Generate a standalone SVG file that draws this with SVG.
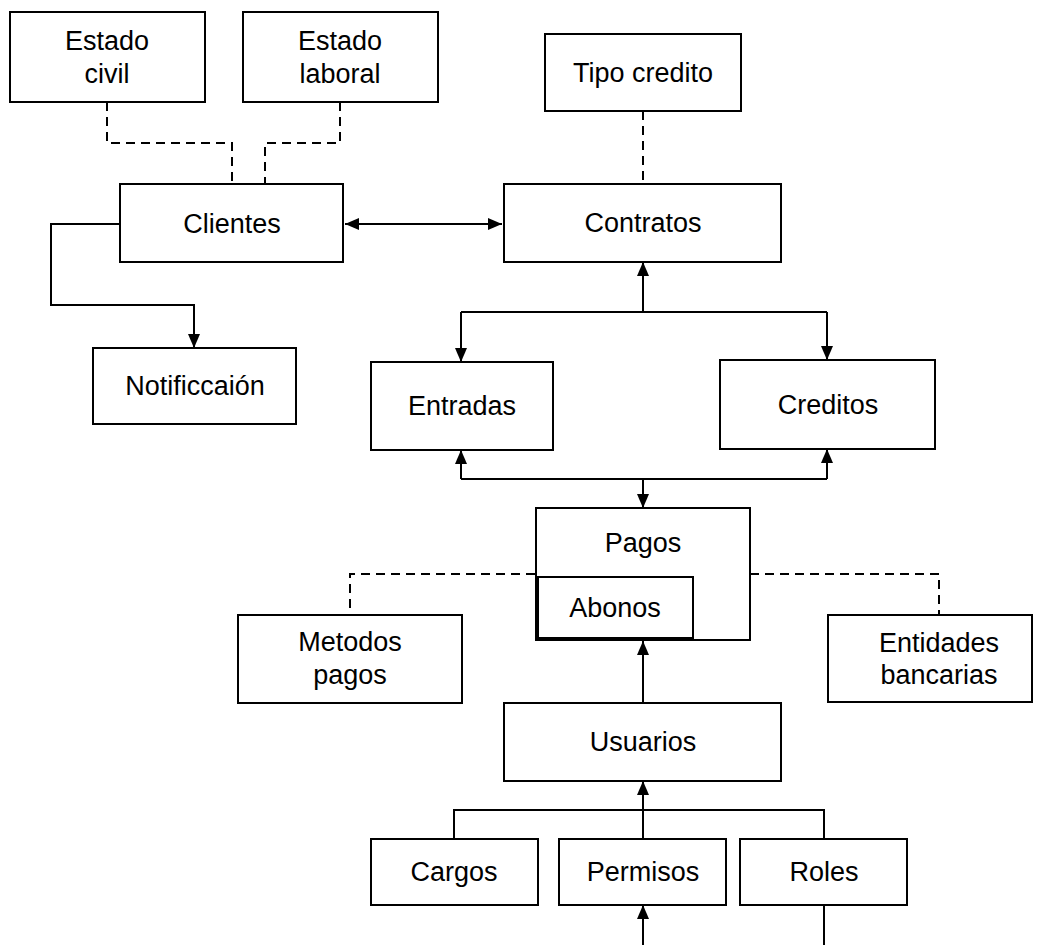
<svg xmlns="http://www.w3.org/2000/svg" width="1040" height="945" viewBox="0 0 1040 945">
  <style>
    .box { fill: #ffffff; stroke: #000000; stroke-width: 2; }
    .lbl { font-family: "Liberation Sans", Arial, sans-serif; font-size: 27px; fill: #000000; text-anchor: middle; }
    .link { fill: none; stroke: #000000; stroke-width: 2; }
    .dash { fill: none; stroke: #000000; stroke-width: 2; stroke-dasharray: 9 6; }
  </style>
  <defs>
    <marker id="arrow" viewBox="0 0 14 12" refX="14" refY="6" markerWidth="14" markerHeight="12" markerUnits="userSpaceOnUse" orient="auto-start-reverse">
      <path d="M0,0 L14,6 L0,12 z" fill="#000000"/>
    </marker>
  </defs>

  <rect width="1040" height="945" fill="#ffffff"/>

  <!-- connectors -->
  <g id="connectors">
    <path class="dash" d="M107,102 V143 H232 V184"/>
    <path class="dash" d="M340,102 V143 H265 V184"/>
    <path class="dash" d="M643,111 V184"/>
    <path class="link" d="M345,224 H502" marker-start="url(#arrow)" marker-end="url(#arrow)"/>
    <path class="link" d="M120,224 H51 V305 H194 V348" marker-end="url(#arrow)"/>
    <path class="link" d="M643,312 V262" marker-end="url(#arrow)"/>
    <path class="link" d="M461,312 H827"/>
    <path class="link" d="M461,312 V362" marker-end="url(#arrow)"/>
    <path class="link" d="M827,312 V360" marker-end="url(#arrow)"/>
    <path class="link" d="M461,479 H827"/>
    <path class="link" d="M461,479 V450" marker-end="url(#arrow)"/>
    <path class="link" d="M827,479 V449" marker-end="url(#arrow)"/>
    <path class="link" d="M643,479 V508" marker-end="url(#arrow)"/>
    <path class="dash" d="M535,574 H350 V615"/>
    <path class="dash" d="M750,574 H939 V615"/>
    <path class="link" d="M643,703 V641" marker-end="url(#arrow)"/>
    <path class="link" d="M643,810 V781" marker-end="url(#arrow)"/>
    <path class="link" d="M454,839 V810 H824 V839"/>
    <path class="link" d="M643,839 V810"/>
    <path class="link" d="M643,945 V905" marker-end="url(#arrow)"/>
    <path class="link" d="M824,905 V945"/>
  </g>

  <!-- nodes -->
  <g id="estado-civil">
    <rect class="box" x="10" y="12" width="195" height="90"/>
    <text class="lbl" x="107" y="50">Estado</text>
    <text class="lbl" x="107" y="83">civil</text>
  </g>
  <g id="estado-laboral">
    <rect class="box" x="243" y="12" width="195" height="90"/>
    <text class="lbl" x="340" y="50">Estado</text>
    <text class="lbl" x="340" y="83">laboral</text>
  </g>
  <g id="tipo-credito">
    <rect class="box" x="545" y="34" width="196" height="77"/>
    <text class="lbl" x="643" y="82">Tipo credito</text>
  </g>
  <g id="clientes">
    <rect class="box" x="120" y="184" width="223" height="78"/>
    <text class="lbl" x="232" y="233">Clientes</text>
  </g>
  <g id="contratos">
    <rect class="box" x="504" y="184" width="277" height="78"/>
    <text class="lbl" x="643" y="232">Contratos</text>
  </g>
  <g id="notificacion">
    <rect class="box" x="93" y="348" width="203" height="76"/>
    <text class="lbl" x="195" y="395">Notificcaión</text>
  </g>
  <g id="entradas">
    <rect class="box" x="371" y="362" width="182" height="88"/>
    <text class="lbl" x="462" y="415">Entradas</text>
  </g>
  <g id="creditos">
    <rect class="box" x="720" y="360" width="215" height="89"/>
    <text class="lbl" x="828" y="414">Creditos</text>
  </g>
  <g id="pagos">
    <rect class="box" x="536" y="508" width="214" height="132"/>
    <text class="lbl" x="643" y="552">Pagos</text>
  </g>
  <g id="abonos">
    <rect class="box" x="538" y="577" width="155" height="61"/>
    <path class="link" d="M536,640 H693" stroke-width="3"/>
    <text class="lbl" x="615" y="617">Abonos</text>
  </g>
  <g id="metodos-pagos">
    <rect class="box" x="238" y="615" width="224" height="88"/>
    <text class="lbl" x="350" y="651">Metodos</text>
    <text class="lbl" x="350" y="684">pagos</text>
  </g>
  <g id="entidades-bancarias">
    <rect class="box" x="828" y="615" width="204" height="87"/>
    <text class="lbl" x="939" y="652">Entidades</text>
    <text class="lbl" x="939" y="684">bancarias</text>
  </g>
  <g id="usuarios">
    <rect class="box" x="504" y="703" width="277" height="78"/>
    <text class="lbl" x="643" y="751">Usuarios</text>
  </g>
  <g id="cargos">
    <rect class="box" x="371" y="839" width="167" height="66"/>
    <text class="lbl" x="454" y="881">Cargos</text>
  </g>
  <g id="permisos">
    <rect class="box" x="559" y="839" width="167" height="66"/>
    <text class="lbl" x="643" y="881">Permisos</text>
  </g>
  <g id="roles">
    <rect class="box" x="740" y="839" width="167" height="66"/>
    <text class="lbl" x="824" y="881">Roles</text>
  </g>
</svg>
